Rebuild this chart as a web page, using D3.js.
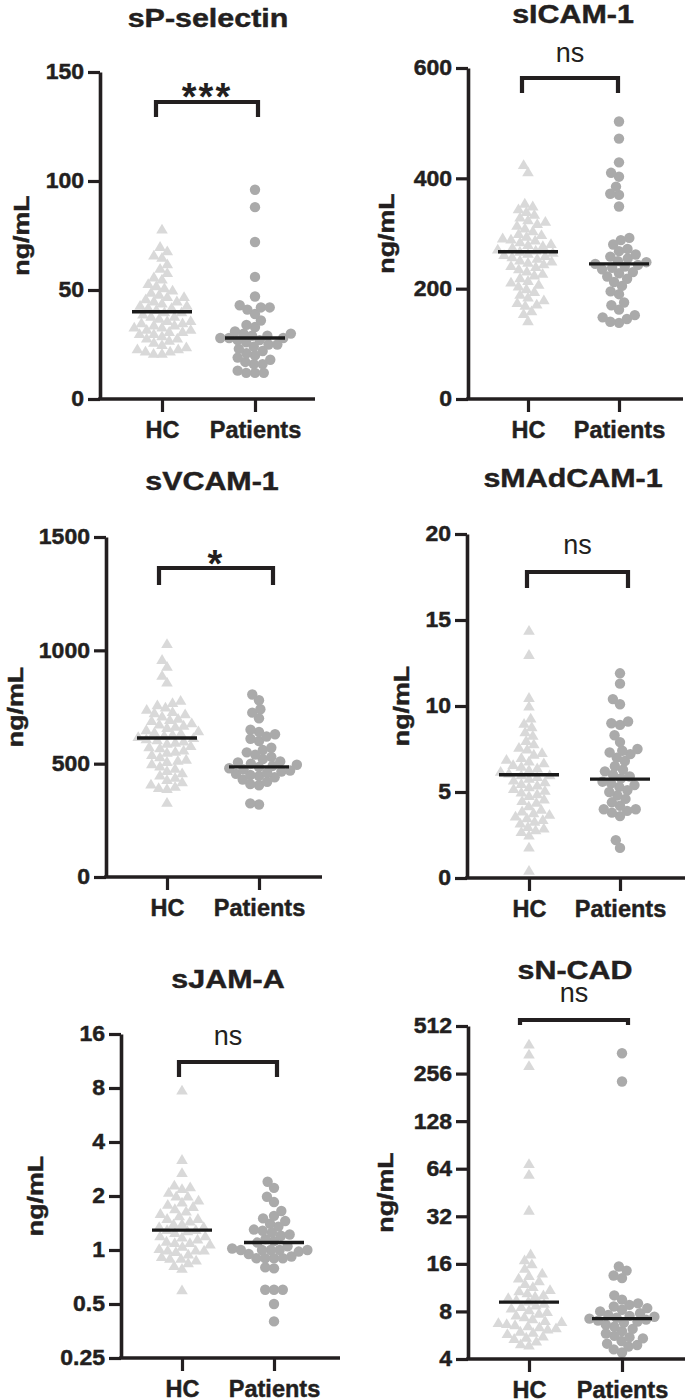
<!DOCTYPE html>
<html><head><meta charset="utf-8">
<script src="https://cdn.jsdelivr.net/npm/d3@7"></script>
<style>body{margin:0;background:#fff} svg{display:block}</style>
</head><body><svg id="c" width="685" height="1400"></svg>
<script>
const groups = ["HC", "Patients"];
const titles = ["sP-selectin", "sICAM-1", "sVCAM-1", "sMAdCAM-1", "sJAM-A", "sN-CAD"];
const sigLabels = ["***", "ns", "*", "ns", "ns", "ns"];
const yLabel = "ng/mL";
const ticks_sP = [0, 50, 100, 150];
const ticks_ICAM = [0, 200, 400, 600];
const ticks_VCAM = [0, 500, 1000, 1500];
const ticks_MAd = [0, 5, 10, 15, 20];
const ticks_JAM = [0.25, 0.5, 1, 2, 4, 8, 16];
const ticks_NCAD = [4, 8, 16, 32, 64, 128, 256, 512];

const hc_sP = [78,70,68,66,65,62,60,58,56,55,53,52,51,50,49,48,47,47,46,45,45,44,43,43,42,42,41,40,40,39,38,38,37,36,36,35,35,34,34,33,33,32,32,31,31,30,30,29,28,28,27,26,25,24,23,23,22,22,21,21];
const pt_sP = [96,88,72,56,47,43,42,42,41,39,36,34,33,31,30,30,29,29,28,28,28,27,27,26,25,25,24,23,22,21,20,19,18,17,16,16,13,12,12,12];
const hc_ICAM = [425,412,355,350,345,340,335,330,325,322,318,315,310,305,300,298,295,292,290,288,285,282,280,278,275,272,270,268,266,264,262,260,258,255,252,250,248,245,242,240,236,232,228,225,220,215,212,208,205,200,195,190,185,180,175,172,170,160,155,142];
const pt_ICAM = [503,472,429,410,403,385,372,370,349,292,288,280,272,268,262,258,255,250,248,245,243,240,238,235,230,228,222,218,212,205,195,190,175,170,162,152,148,145,140,138];
const hc_VCAM = [1030,960,930,890,860,780,770,760,750,740,730,725,720,710,700,695,690,680,675,670,665,660,650,645,640,635,630,625,620,615,610,605,600,595,590,580,575,570,560,555,550,540,530,520,515,510,500,490,480,470,460,450,440,430,420,410,400,395,390,330];
const pt_VCAM = [805,780,740,725,700,650,640,630,620,610,600,570,560,550,540,530,520,510,505,500,495,490,485,480,475,470,465,460,455,450,445,440,430,420,410,405,325,320];
const hc_MAd = [14.4,13.0,10.5,10.0,9.3,9.0,8.8,8.5,8.3,8.0,7.8,7.6,7.5,7.3,7.2,7.0,6.9,6.8,6.7,6.6,6.5,6.4,6.3,6.2,6.1,6.0,6.0,5.9,5.8,5.7,5.6,5.5,5.4,5.3,5.2,5.1,5.0,4.9,4.8,4.6,4.5,4.4,4.2,4.0,3.9,3.8,3.7,3.6,3.5,3.4,3.3,3.2,3.0,2.9,2.8,2.7,2.5,1.8,0.45];
const pt_MAd = [11.9,11.3,10.4,10.1,9.1,9.0,8.9,8.3,7.9,7.5,7.4,7.3,7.2,7.0,6.8,6.5,6.3,6.2,6.0,5.9,5.8,5.6,5.5,5.4,5.3,5.1,5.0,4.8,4.6,4.4,4.2,4.0,4.0,3.9,3.8,3.6,2.2,1.75];
const hc_JAM = [7.8,3.2,2.7,2.3,2.25,2.2,2.1,2.0,2.0,1.9,1.85,1.8,1.75,1.7,1.65,1.6,1.55,1.5,1.5,1.45,1.4,1.4,1.35,1.35,1.3,1.3,1.28,1.25,1.2,1.2,1.18,1.15,1.12,1.1,1.1,1.08,1.05,1.02,1.0,1.0,1.0,0.98,0.95,0.92,0.9,0.9,0.88,0.85,0.82,0.79,0.6];
const pt_JAM = [2.4,2.22,1.98,1.85,1.65,1.55,1.5,1.45,1.4,1.35,1.3,1.28,1.25,1.22,1.2,1.15,1.12,1.1,1.05,1.02,1.0,1.0,1.0,1.0,1.0,0.98,0.95,0.92,0.9,0.9,0.9,0.9,0.8,0.79,0.6,0.6,0.6,0.5,0.4];
const hc_NCAD = [394,340,288,69,59,35,18.5,17,16,15,14,13.5,13,12.5,12,11.5,11,10.8,10.5,10.2,10,9.8,9.5,9.3,9,8.8,8.6,8.4,8.2,8,7.8,7.6,7.4,7.2,7,6.9,6.8,6.7,6.6,6.5,6.4,6.3,6.2,6.0,5.9,5.8,5.6,5.5,5.4,5.2,5.0,4.9];
const pt_NCAD = [344,228,15.4,14.5,13.5,13.0,10.1,9.5,9.0,8.8,8.6,8.4,8.2,8.0,7.8,7.6,7.5,7.4,7.3,7.2,7.1,7.0,6.9,6.8,6.6,6.4,6.2,6.0,5.8,5.6,5.5,5.4,5.2,5.0,4.9,4.8,4.6,4.4];
const medians = [[40, 28], [267, 245], [613, 486], [6.0, 5.75], [1.29, 1.1], [9.16, 7.2]];

const panelData = [
  {hc: hc_sP, pt: pt_sP, ticks: ticks_sP, log: false},
  {hc: hc_ICAM, pt: pt_ICAM, ticks: ticks_ICAM, log: false},
  {hc: hc_VCAM, pt: pt_VCAM, ticks: ticks_VCAM, log: false},
  {hc: hc_MAd, pt: pt_MAd, ticks: ticks_MAd, log: false},
  {hc: hc_JAM, pt: pt_JAM, ticks: ticks_JAM, log: true},
  {hc: hc_NCAD, pt: pt_NCAD, ticks: ticks_NCAD, log: true}
];

// layout (pixels)
const layout = [
  {ax:100, yb:399, yt:72,  xe:315, hx:162, px:255, tx:208, ty:27,  bt:102, bb:117, bx1:156, bx2:258, sy:96,  lx:29},
  {ax:468, yb:399, yt:68,  xe:683, hx:528, px:619, tx:573, ty:23,  bt:78,  bb:93,  bx1:522, bx2:618, sy:62,  lx:394},
  {ax:106, yb:877, yt:537, xe:322, hx:167, px:259, tx:212, ty:490, bt:568, bb:585, bx1:159, bx2:273, sy:563, lx:23},
  {ax:467, yb:878, yt:534, xe:685, hx:529, px:620, tx:573, ty:487, bt:572, bb:588, bx1:527, bx2:628, sy:554, lx:409},
  {ax:121, yb:1358,yt:1034,xe:340, hx:182, px:274, tx:228, ty:988, bt:1062,bb:1077,bx1:179, bx2:277, sy:1045,lx:43},
  {ax:468, yb:1359,yt:1026,xe:685, hx:529, px:622, tx:575, ty:979, bt:1020,bb:1025,bx1:520, bx2:628, sy:1002,lx:393}
];

const INK = "#231f20";
const HC_COL = "#d9d9d9";
const PT_COL = "#aaaaaa";
const FONT = "'Liberation Sans', Arial, Helvetica, sans-serif";

const svg = d3.select("#c");

// widen glyphs horizontally along reading direction
function stretch(sel, k) {
  sel.each(function () {
    const len = this.getComputedTextLength();
    d3.select(this).attr("textLength", len * k).attr("lengthAdjust", "spacingAndGlyphs");
  });
}
function heavy(sel) {
  sel.attr("stroke", INK).attr("stroke-width", 0.45).attr("paint-order", "stroke");
}

function swarm(vals, y, D) {
  const pts = vals.map(v => ({v, y: y(v)})).sort((a, b) => b.y - a.y);
  const placed = [];
  for (const p of pts) {
    const ints = [];
    for (const q of placed) {
      const dy = Math.abs(q.y - p.y);
      if (dy < D) { const w = Math.sqrt(D * D - dy * dy); ints.push([q.x - w, q.x + w]); }
    }
    const cands = [0];
    ints.forEach(i => cands.push(i[0], i[1]));
    cands.sort((a, b) => Math.abs(a) - Math.abs(b));
    for (const c of cands) {
      if (ints.every(i => c <= i[0] + 1e-6 || c >= i[1] - 1e-6)) { p.x = c; break; }
    }
    placed.push(p);
  }
  return pts;
}

const triPath = "M0,-5.3 L5.8,4.5 L-5.8,4.5 Z";

panelData.forEach((pd, i) => {
  const L = layout[i];
  const g = svg.append("g");
  const y = pd.log
    ? d3.scaleLog().base(2).domain([pd.ticks[0], pd.ticks[pd.ticks.length - 1]]).range([L.yb, L.yt])
    : d3.scaleLinear().domain([pd.ticks[0], pd.ticks[pd.ticks.length - 1]]).range([L.yb, L.yt]);
  const x = d3.scalePoint().domain(groups).range([L.hx, L.px]);

  // points
  const hcPts = swarm(pd.hc, y, 8.4);
  const ptPts = swarm(pd.pt, y, 8.8);
  g.selectAll("path.hc").data(hcPts).join("path")
    .attr("d", triPath).attr("fill", HC_COL)
    .attr("transform", d => `translate(${x("HC") + d.x},${d.y})`);
  g.selectAll("circle.pt").data(ptPts).join("circle")
    .attr("cx", d => x("Patients") + d.x).attr("cy", d => d.y).attr("r", 5.2).attr("fill", PT_COL);

  // medians
  g.selectAll("line.med").data(groups).join("line")
    .attr("x1", d => x(d) - 30).attr("x2", d => x(d) + 30)
    .attr("y1", (d, j) => y(medians[i][j])).attr("y2", (d, j) => y(medians[i][j]))
    .attr("stroke", "#1a1a1a").attr("stroke-width", 3.4);

  // y axis
  const ya = g.append("g").attr("transform", `translate(${L.ax},0)`)
    .call(d3.axisLeft(y).tickValues(pd.ticks).tickFormat(d => String(d)).tickSize(12).tickSizeOuter(0).tickPadding(4));
  ya.select(".domain").attr("stroke", INK).attr("stroke-width", 3.6);
  ya.selectAll(".tick line").attr("stroke", INK).attr("stroke-width", 3.2);
  ya.selectAll(".tick text").attr("fill", INK).attr("font-family", FONT).attr("font-weight", "bold").attr("font-size", 21.5)
    .call(stretch, 1.07).call(heavy);

  // x axis
  const xa = g.append("g").attr("transform", `translate(0,${L.yb})`)
    .call(d3.axisBottom(x).tickSize(13).tickSizeOuter(0).tickPadding(9));
  xa.select(".domain").remove();
  xa.selectAll(".tick line").attr("stroke", INK).attr("stroke-width", 3.2);
  xa.selectAll(".tick text").attr("fill", INK).attr("font-family", FONT).attr("font-weight", "bold").attr("font-size", 23.5)
    .call(heavy);
  g.append("line").attr("x1", L.ax - 1.8).attr("x2", L.xe).attr("y1", L.yb).attr("y2", L.yb)
    .attr("stroke", INK).attr("stroke-width", 3.6);

  // title
  g.append("text").attr("x", L.tx).attr("y", L.ty).attr("text-anchor", "middle")
    .attr("font-family", FONT).attr("font-weight", "bold").attr("font-size", 26).attr("fill", INK)
    .text(titles[i]).call(stretch, 1.17).call(heavy);

  // y label
  g.append("text").attr("transform", `translate(${L.lx},${(L.yb + L.yt) / 2}) rotate(-90)`)
    .attr("text-anchor", "middle").attr("font-family", FONT).attr("font-weight", "bold")
    .attr("font-size", 22).attr("fill", INK).text(yLabel).call(stretch, 1.22).call(heavy);

  // bracket
  g.append("path")
    .attr("d", `M${L.bx1},${L.bb} V${L.bt} H${L.bx2} V${L.bb}`)
    .attr("fill", "none").attr("stroke", INK).attr("stroke-width", 4.2);
  const sig = sigLabels[i];
  const isStar = sig.includes("*");
  g.append("text").attr("x", (L.bx1 + L.bx2) / 2).attr("y", isStar ? L.sy + 14 : L.sy)
    .attr("text-anchor", "middle").attr("font-family", FONT)
    .attr("font-weight", isStar ? "bold" : "normal")
    .attr("font-size", isStar ? 38 : 27).attr("fill", INK)
    .attr("letter-spacing", isStar ? 2 : 0)
    .text(sig);
});
</script>
</body></html>
